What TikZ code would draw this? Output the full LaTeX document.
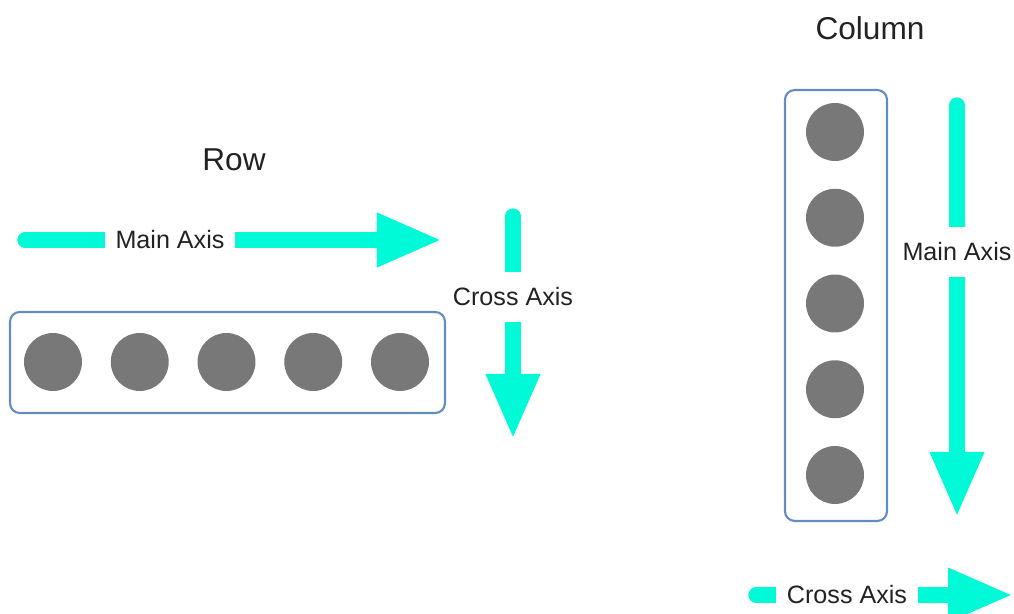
\documentclass[tikz,border=0pt]{standalone}
\usepackage{fontspec}
\setmainfont{Liberation Sans}
\usepackage{xcolor}
\usetikzlibrary{positioning,calc,arrows.meta}
\definecolor{axiscyan}{RGB}{0,250,215}
\definecolor{boxblue}{RGB}{100,140,190}
\definecolor{dotgray}{RGB}{120,120,120}
\definecolor{txtgray}{RGB}{34,34,34}
\tikzset{
  axis/.style={axiscyan, line width=8.7pt, line cap=round, -{Triangle[length=37pt,width=28.5pt]}},
  axislabel/.style={fill=white, text=txtgray, inner xsep=6pt, inner ysep=9pt, font=\fontsize{14.3}{16}\selectfont},
  title/.style={text=txtgray, font=\fontsize{18}{20}\selectfont},
  container/.style={draw=boxblue, line width=1.2pt, rounded corners=5.5pt},
  dot/.style={circle, fill=dotgray, minimum size=1.16cm, inner sep=0pt}
}
\begin{document}
\begin{tikzpicture}[x=0.02cm, y=-0.02cm]
    \useasboundingbox (0,0) rectangle (1014,614);
    % Row
    \node[title] (rowtitle) at (234,160) {Row};
    \coordinate (rmstart) at (25,240);
    \coordinate (rmtip) at (442,240);
    \draw[axis] (rmstart) -- (rmtip);
    \node[axislabel] (rmlabel) at (170,240) {Main Axis};
    \coordinate (rcstart) at (513,216);
    \coordinate (rctip) at (513,439);
    \draw[axis] (rcstart) -- (rctip);
    \node[axislabel] (rclabel) at (513,297) {Cross Axis};
    \node[container, minimum width=8.7cm, minimum height=2.02cm] (rowbox) at (227.5,362.5) {};
    \foreach \i in {1,...,5}
        \node[dot] (r\i) at ({53+86.75*(\i-1)},362) {};
    % Column
    \node[title] (coltitle) at (870,28) {Column};
    \node[container, minimum width=2.04cm, minimum height=8.62cm] (colbox) at (836,305.5) {};
    \foreach \i in {1,...,5}
        \node[dot] (c\i) at (835,{132+85.75*(\i-1)}) {};
    \coordinate (cmstart) at (957,105);
    \coordinate (cmtip) at (957,517);
    \draw[axis] (cmstart) -- (cmtip);
    \node[axislabel] (cmlabel) at (957,252) {Main Axis};
    \coordinate (ccstart) at (756,595);
    \coordinate (cctip) at (1013,595);
    \draw[axis] (ccstart) -- (cctip);
    \node[axislabel] (cclabel) at (847,595) {Cross Axis};
\end{tikzpicture}
\end{document}
